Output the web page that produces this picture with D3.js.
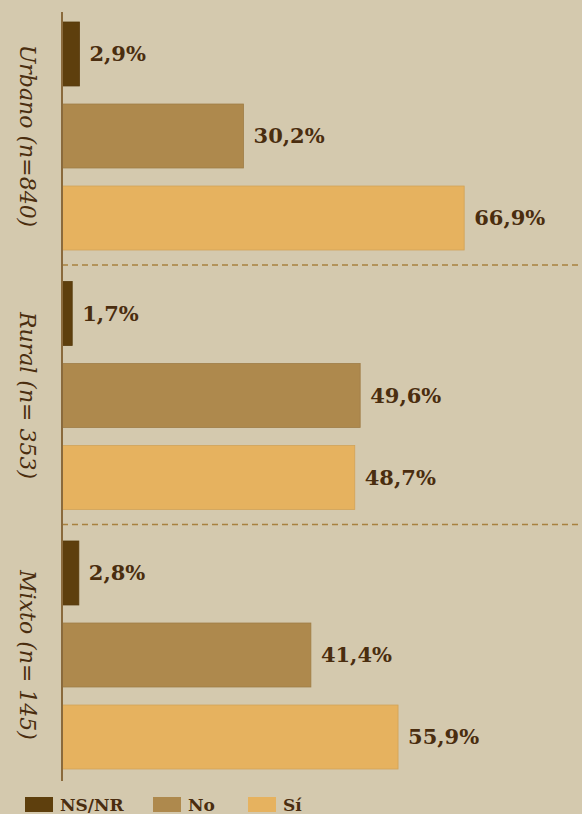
<!DOCTYPE html>
<html>
<head>
<meta charset="utf-8">
<script src="https://cdn.jsdelivr.net/npm/d3@7"></script>
<style>
  html, body { margin: 0; padding: 0; background: #d4c9ae; }
  svg { display: block; }
</style>
</head>
<body>
<script>
// categories and series
const groups = ['Urbano (n=840)', 'Rural (n= 353)', 'Mixto (n= 145)']
const series = ['NS/NR', 'No', 'Sí']
const nsnr = [2.9, 1.7, 2.8]
const no = [30.2, 49.6, 41.4]
const si = [66.9, 48.7, 55.9]
const colors = ['#5e3f0d', '#ae894d', '#e6b25f']

const width = 582
const height = 814
const axisX = 62

const svg = d3.select('body').append('svg').attr('width', width).attr('height', height)

const x = d3.scaleLinear().domain([0, 86.5]).range([axisX, width])
const y0 = d3.scaleBand().domain(groups).range([4, 782.5]).paddingInner(0).paddingOuter(0)
const y1 = d3.scaleBand().domain(series).range([18, 246]).paddingInner(0.22).paddingOuter(0)

const rows = []
groups.forEach((g, i) => {
  rows.push({ g, s: 'NS/NR', v: nsnr[i], c: colors[0] })
  rows.push({ g, s: 'No', v: no[i], c: colors[1] })
  rows.push({ g, s: 'Sí', v: si[i], c: colors[2] })
})

const fmt = (v) => d3.format('.1f')(v).replace('.', ',') + '%'

// bars
svg
  .selectAll('rect.bar')
  .data(rows)
  .enter()
  .append('rect')
  .attr('class', 'bar')
  .attr('x', axisX)
  .attr('y', (d) => y0(d.g) + y1(d.s))
  .attr('width', (d) => x(d.v) - axisX)
  .attr('height', y1.bandwidth())
  .attr('fill', (d) => d.c)
  .attr('stroke', (d) => d3.color(d.c).darker(0.25))
  .attr('stroke-width', 0.8)

// value labels
svg
  .selectAll('text.val')
  .data(rows)
  .enter()
  .append('text')
  .attr('class', 'val')
  .attr('x', (d) => x(d.v) + 10)
  .attr('y', (d) => y0(d.g) + y1(d.s) + y1.bandwidth() / 2)
  .attr('dy', '0.35em')
  .attr('font-family', 'DejaVu Serif')
  .attr('font-weight', 'bold')
  .attr('font-size', 21)
  .attr('fill', '#4a2d0f')
  .text((d) => fmt(d.v))

// dashed separators
svg
  .selectAll('line.sep')
  .data(groups.slice(1))
  .enter()
  .append('line')
  .attr('class', 'sep')
  .attr('x1', axisX)
  .attr('x2', width)
  .attr('y1', (d) => y0(d) + 1.5)
  .attr('y2', (d) => y0(d) + 1.5)
  .attr('stroke', '#a8813f')
  .attr('stroke-width', 1.5)
  .attr('stroke-dasharray', '6,4')

// axis line
svg
  .append('line')
  .attr('x1', axisX)
  .attr('x2', axisX)
  .attr('y1', 12)
  .attr('y2', 781)
  .attr('stroke', '#8a6a3c')
  .attr('stroke-width', 2)

// group labels
svg
  .selectAll('text.grp')
  .data(groups)
  .enter()
  .append('text')
  .attr('class', 'grp')
  .attr('transform', (d) => `translate(28,${y0(d) + y1.range()[0] + (y1.range()[1] - y1.range()[0]) / 2}) rotate(90)`)
  .attr('text-anchor', 'middle')
  .attr('dy', '0.35em')
  .attr('font-family', 'DejaVu Serif')
  .attr('font-style', 'italic')
  .attr('font-size', 22)
  .attr('fill', '#4a2d0f')
  .text((d) => d)

// legend
const legendX = [25, 153, 248]
const legend = svg
  .selectAll('g.leg')
  .data(series)
  .enter()
  .append('g')
  .attr('class', 'leg')
  .attr('transform', (d, i) => `translate(${legendX[i]},797)`)
legend
  .append('rect')
  .attr('width', 28)
  .attr('height', 15)
  .attr('fill', (d, i) => colors[i])
legend
  .append('text')
  .attr('x', 35)
  .attr('y', 14)
  .attr('font-family', 'DejaVu Serif')
  .attr('font-weight', 'bold')
  .attr('font-size', 17)
  .attr('fill', '#4a2d0f')
  .text((d) => d)
</script>
</body>
</html>
